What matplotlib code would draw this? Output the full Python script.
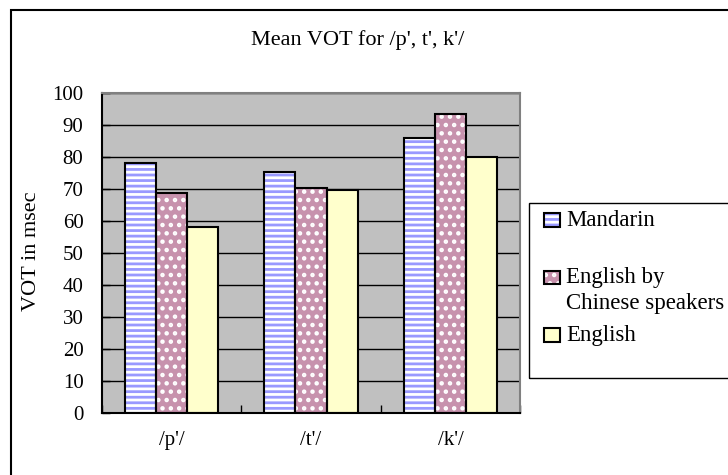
import matplotlib.pyplot as plt
import numpy as np
from matplotlib.patches import Rectangle

plt.rcParams['font.family'] = ['Liberation Serif', 'DejaVu Serif']
plt.rcParams['hatch.linewidth'] = 2.0

categories = ["/p'/", "/t'/", "/k'/"]
series_names = ["Mandarin", "English by\nChinese speakers", "English"]
mandarin = [78.0, 75.3, 85.8]
english_by_chinese = [68.6, 70.2, 93.3]
english = [58.2, 69.6, 80.0]
y_ticks = list(range(0, 101, 10))

W, H = 728, 475
fig = plt.figure(figsize=(W / 100, H / 100), dpi=100)


# pixel position -> figure fraction
def fx(px):
    return px / W


def fy(py):
    return 1 - py / H


ax = fig.add_axes([fx(101.5), fy(412.5), (520.5 - 101.5) / W, (412.5 - 93) / H])
ax.set_facecolor('#c0c0c0')
ax.set_axisbelow(True)

# fill colour, hatch pattern, hatch colour for each series
styles = [
    ('white', '---', '#9999ff'),
    ('#c792ad', '..', 'white'),
    ('#ffffcc', None, '#ffffcc'),
]

x = np.arange(len(categories))
w = 0.222
for i, vals in enumerate([mandarin, english_by_chinese, english]):
    face, hatch, hcol = styles[i]
    pos = x + (i - 1) * w
    ax.bar(pos, vals, w, color=face, hatch=hatch, edgecolor=hcol, linewidth=0, zorder=2)
    ax.bar(pos, vals, w, fill=False, edgecolor='black', linewidth=1.5, zorder=3)

ax.set_xlim(-0.5, 2.5)
ax.set_ylim(0, 100)
ax.set_yticks(y_ticks)
ax.yaxis.grid(True, color='black', linewidth=1)
ax.tick_params(axis='y', direction='in', length=6, width=1, pad=13, labelsize=15)

ax.set_xticks([-0.5, 0.5, 1.5, 2.5])
ax.set_xticklabels([])
ax.set_xticks(x, minor=True)
ax.set_xticklabels(categories, minor=True)
ax.tick_params(axis='x', which='major', direction='in', length=6, width=1)
ax.tick_params(axis='x', which='minor', length=0, pad=13, labelsize=15)

for side in ['left', 'bottom']:
    ax.spines[side].set_color('black')
    ax.spines[side].set_linewidth(1.5)
for side in ['top', 'right']:
    ax.spines[side].set_color('#808080')
    ax.spines[side].set_linewidth(1.5)

fig.text(fx(31), fy(251), 'VOT in msec', rotation=90, ha='center', va='center', fontsize=16)
fig.text(fx(358), fy(40), "Mean VOT for /p', t', k'/", ha='center', va='center', fontsize=16)

# outer chart border
fig.patches.append(Rectangle((fx(11), -0.2), 2, fy(10) + 0.2, fill=False, edgecolor='black',
                             linewidth=1.5, transform=fig.transFigure, figure=fig))

# legend box with handles and labels
fig.patches.append(Rectangle((fx(529), fy(378)), 1, (378 - 203) / H, fill=False,
                             edgecolor='black', linewidth=1, transform=fig.transFigure, figure=fig))
handle_tops = [213, 270.7, 328]
for i, name in enumerate(series_names):
    face, hatch, hcol = styles[i]
    y0 = handle_tops[i]
    box = (fx(543.5), fy(y0 + 13.5))
    fig.patches.append(Rectangle(box, 16 / W, 13.5 / H, facecolor=face, hatch=hatch,
                                 edgecolor=hcol, linewidth=0, transform=fig.transFigure, figure=fig))
    fig.patches.append(Rectangle(box, 16 / W, 13.5 / H, fill=False, edgecolor='black',
                                 linewidth=1.5, transform=fig.transFigure, figure=fig))
    for j, line in enumerate(name.split('\n')):
        fig.text(fx(566), fy(y0 + 7 + 26 * j), line, ha='left', va='center', fontsize=16.5)

fig.savefig('out.png', dpi=100)
